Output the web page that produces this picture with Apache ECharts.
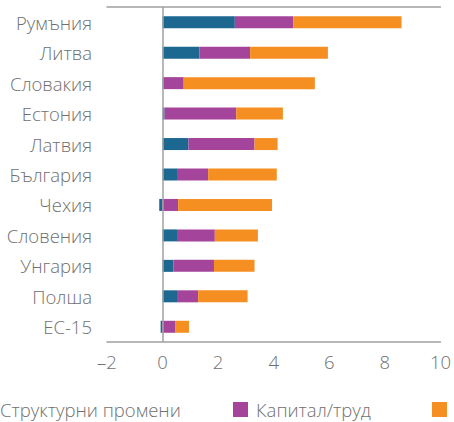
<!DOCTYPE html>
<html>
<head>
<meta charset="utf-8">
<script src="https://cdn.jsdelivr.net/npm/echarts@6/dist/echarts.min.js"></script>
<style>
  html, body { margin: 0; padding: 0; background: #fff; }
  #chart { width: 454px; height: 422px; }
</style>
</head>
<body>
<div id="chart"></div>
<script>
var countries = ['Румъния', 'Литва', 'Словакия', 'Естония', 'Латвия', 'България', 'Чехия', 'Словения', 'Унгария', 'Полша', 'ЕС-15'];
var seriesNames = ['Структурни промени', 'Капитал/труд', 'ОФП'];
var structural = [2.6, 1.33, 0.02, 0.07, 0.93, 0.52, -0.12, 0.52, 0.39, 0.52, -0.07];
var capitalLabour = [2.1, 1.82, 0.74, 2.58, 2.38, 1.12, 0.56, 1.36, 1.46, 0.76, 0.45];
var tfp = [3.9, 2.8, 4.72, 1.68, 0.83, 2.47, 3.38, 1.55, 1.46, 1.78, 0.5];
var xTicks = { min: -2, max: 10, interval: 2 };

var blue = '#1c6891', purple = '#a4449a', orange = '#f58f21';
var ink = '#707070', rule = '#a0a0a0';
var font = '"Open Sans", "Noto Sans", sans-serif';
var fs = 18.5;

var chart = echarts.init(document.getElementById('chart'), null, { renderer: 'svg' });

function legendAt(name, left) {
  return {
    data: [name],
    left: left,
    top: 400,
    padding: 0,
    itemWidth: 15,
    itemHeight: 15,
    itemGap: 0,
    itemStyle: { borderWidth: 0 },
    icon: 'rect',
    textStyle: { color: ink, fontSize: fs, fontWeight: 300, fontFamily: font, padding: [0, 0, 0, 3] }
  };
}

chart.setOption({
  animation: false,
  legend: [
    legendAt(seriesNames[0], -23),
    legendAt(seriesNames[1], 233),
    legendAt(seriesNames[2], 432)
  ],
  grid: { left: 107, right: 13, top: 7, bottom: 80 },
  xAxis: [
    {
      type: 'value',
      min: xTicks.min, max: xTicks.max, interval: xTicks.interval,
      axisLine: { show: true, onZero: false, lineStyle: { color: rule, width: 1.5 } },
      axisTick: { show: false },
      splitLine: { show: false },
      axisLabel: {
        color: ink, fontSize: fs, fontWeight: 300, fontFamily: font, margin: 10,
        formatter: function (v) { return String(v).replace('-', '–'); }
      }
    },
    {
      type: 'value', position: 'top',
      min: xTicks.min, max: xTicks.max, interval: xTicks.interval,
      axisLine: { show: true, onZero: false, lineStyle: { color: rule, width: 1.5 } },
      axisTick: { show: false },
      splitLine: { show: false },
      axisLabel: { show: false }
    }
  ],
  yAxis: {
    type: 'category',
    inverse: true,
    data: countries,
    axisLine: { show: false },
    axisTick: { show: false },
    axisLabel: { color: ink, fontSize: fs, fontWeight: 300, fontFamily: font, margin: 15 }
  },
  series: [
    {
      name: seriesNames[0], type: 'bar', stack: 'total', data: structural,
      barWidth: 12, itemStyle: { color: blue },
      markLine: {
        silent: true, symbol: 'none', label: { show: false },
        lineStyle: { color: rule, width: 1.5, type: 'solid' },
        data: [{ xAxis: 0 }]
      }
    },
    { name: seriesNames[1], type: 'bar', stack: 'total', data: capitalLabour, barWidth: 12, itemStyle: { color: purple } },
    { name: seriesNames[2], type: 'bar', stack: 'total', data: tfp, barWidth: 12, itemStyle: { color: orange } }
  ]
});
window.addEventListener('resize', function () { chart.resize(); });
</script>
</body>
</html>
